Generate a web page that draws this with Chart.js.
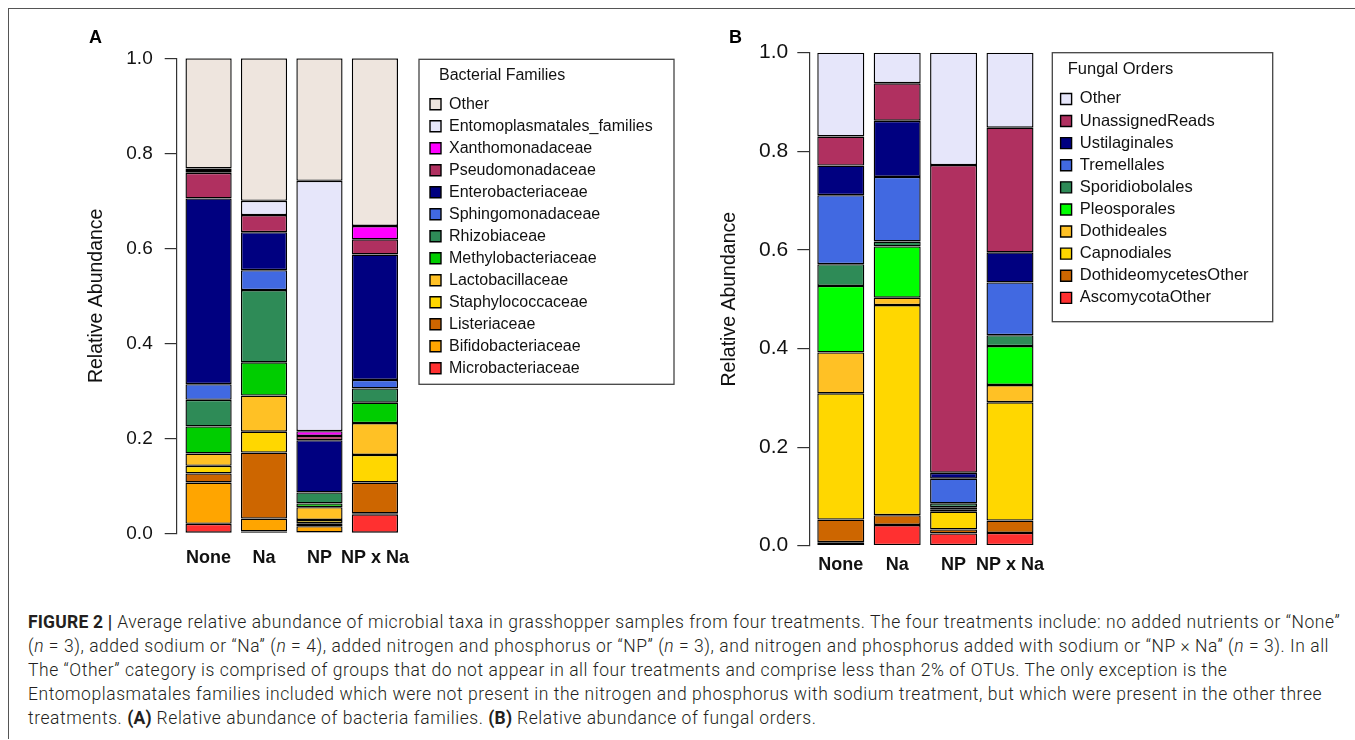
<!DOCTYPE html>
<html><head><meta charset="utf-8">
<script src="https://cdn.jsdelivr.net/npm/chart.js@4.4.1/dist/chart.umd.min.js"></script>
<style>
html,body{margin:0;padding:0;background:#fff;width:1355px;height:740px;overflow:hidden;position:relative;}
#frame{position:absolute;left:7.5px;top:7.5px;width:1360px;height:730px;border-top:1.5px solid #555;border-left:1.5px solid #555;}
.panel{position:absolute;top:0;}
.letter{position:absolute;font:bold 18px "Liberation Sans",Arial,sans-serif;line-height:18px;top:28px;color:#000;}
#caption{position:absolute;left:28px;top:610px;font-family:Roboto,"Liberation Sans",sans-serif;font-weight:300;font-size:17.5px;letter-spacing:0.55px;line-height:24px;color:#231f20;white-space:nowrap;}
#caption b{font-weight:700;letter-spacing:0.2px;}
</style></head>
<body>
<div id="frame"></div>
<canvas id="chartA" class="panel" width="1000" height="590" style="left:0px"></canvas>
<canvas id="chartB" class="panel" width="1000" height="590" style="left:640px"></canvas>
<div class="letter" style="left:89px">A</div>
<div class="letter" style="left:729px">B</div>
<div id="caption">
<div><b>FIGURE 2 |</b> Average relative abundance of microbial taxa in grasshopper samples from four treatments. The four treatments include: no added nutrients or “None”</div>
<div>(<i>n</i> = 3), added sodium or “Na” (<i>n</i> = 4), added nitrogen and phosphorus or “NP” (<i>n</i> = 3), and nitrogen and phosphorus added with sodium or “NP × Na” (<i>n</i> = 3). In all</div>
<div>The “Other” category is comprised of groups that do not appear in all four treatments and comprise less than 2% of OTUs. The only exception is the</div>
<div>Entomoplasmatales families included which were not present in the nitrogen and phosphorus with sodium treatment, but which were present in the other three</div>
<div>treatments. <b>(A)</b> Relative abundance of bacteria families. <b>(B)</b> Relative abundance of fungal orders.</div>
</div>
<script>
// ---------- DATA ----------
const treatments = ['None', 'Na', 'NP', 'NP x Na'];

// Panel A: bacterial families (bottom to top), values per treatment
const bacteriaNames = ['Microbacteriaceae', 'Bifidobacteriaceae', 'Listeriaceae', 'Staphylococcaceae',
  'Lactobacillaceae', 'Methylobacteriaceae', 'Rhizobiaceae', 'Sphingomonadaceae', 'Enterobacteriaceae',
  'Pseudomonadaceae', 'Xanthomonadaceae', 'Entomoplasmatales_families', 'Other'];
const microbacteriaceae   = [0.020, 0.004, 0.002, 0.040];
const bifidobacteriaceae  = [0.087, 0.027, 0.013, 0.002];
const listeriaceae        = [0.019, 0.139, 0.006, 0.065];
const staphylococcaceae   = [0.016, 0.044, 0.007, 0.058];
const lactobacillaceae    = [0.026, 0.076, 0.027, 0.067];
const methylobacteriaceae = [0.057, 0.070, 0.008, 0.043];
const rhizobiaceae        = [0.056, 0.152, 0.023, 0.030];
const sphingomonadaceae   = [0.033, 0.042, 0.000, 0.018];
const enterobacteriaceae  = [0.391, 0.080, 0.110, 0.264];
const pseudomonadaceae    = [0.054, 0.036, 0.009, 0.032];
const xanthomonadaceae    = [0.004, 0.000, 0.010, 0.028];
const entomoplasmatales   = [0.005, 0.030, 0.527, 0.000];
const bacteriaOther       = [0.232, 0.300, 0.258, 0.353];
const bacteriaColors = ['#FF3030', '#FFA500', '#CD6600', '#FFD700', '#FFC125', '#00CD00', '#2E8B57',
  '#4169E1', '#000080', '#B03060', '#FF00FF', '#E6E6FA', '#EEE5DE'];

// Panel B: fungal orders (bottom to top), values per treatment
const fungiNames = ['AscomycotaOther', 'DothideomycetesOther', 'Capnodiales', 'Dothideales', 'Pleosporales',
  'Sporidiobolales', 'Tremellales', 'Ustilaginales', 'UnassignedReads', 'Other'];
const ascomycotaOther      = [0.007, 0.042, 0.025, 0.026];
const dothideomycetesOther = [0.046, 0.020, 0.008, 0.025];
const capnodiales          = [0.256, 0.426, 0.036, 0.240];
const dothideales          = [0.083, 0.015, 0.005, 0.035];
const pleosporales         = [0.135, 0.104, 0.004, 0.079];
const sporidiobolales      = [0.044, 0.010, 0.008, 0.022];
const tremellales          = [0.140, 0.131, 0.050, 0.107];
const ustilaginales        = [0.060, 0.114, 0.012, 0.061];
const unassignedReads      = [0.059, 0.076, 0.624, 0.253];
const fungiOther           = [0.170, 0.062, 0.228, 0.152];
const fungiColors = ['#FF3030', '#CD6600', '#FFD700', '#FFC125', '#00FF00', '#2E8B57', '#4169E1',
  '#000080', '#B03060', '#E6E6FA'];

const yTicks = [0, 0.2, 0.4, 0.6, 0.8, 1.0];

// ---------- CHARTS ----------
const FONT = '"Liberation Sans", Arial, Helvetica, sans-serif';

const legendFrame = {
  id: 'legendFrame',
  afterLayout(chart, args, o) {
    const lg = chart.legend;
    const w = lg.width, h = lg.height;
    lg.left = o.legendLeft; lg.right = lg.left + w;
    lg.top = chart.chartArea.top; lg.bottom = lg.top + h;
  },
  afterDraw(chart, args, o) {
    const lg = chart.legend, ctx = chart.ctx;
    ctx.save();
    ctx.strokeStyle = '#444'; ctx.lineWidth = 1.3;
    ctx.strokeRect(lg.left + o.boxDx, lg.top + o.boxDy, o.boxW, o.boxH);
    ctx.fillStyle = '#111';
    ctx.font = o.titleSize + 'px ' + FONT;
    ctx.textBaseline = 'middle'; ctx.textAlign = 'left';
    ctx.fillText(o.title, lg.left + o.titleDx, lg.top + o.titleDy);
    ctx.restore();
  }
};

function buildChart(id, p) {
  const xs = treatments.map((_, i) => 0.7 + 1.2 * i);   // R barplot bar centres (space = 0.2)
  const datasets = p.series.map((vals, k) => ({
    label: p.names[k],
    data: vals.map((v, i) => ({x: xs[i], y: v})),
    backgroundColor: p.colors[k],
    borderColor: '#000',
    borderWidth: 1.4,
    borderSkipped: false,
    categoryPercentage: 1,
    barPercentage: 1 / 1.2
  }));
  return new Chart(document.getElementById(id), {
    type: 'bar',
    data: {datasets},
    plugins: [legendFrame],
    options: {
      responsive: false,
      animation: false,
      layout: {padding: {top: p.areaTop, left: 0, right: 0, bottom: 0}},
      plugins: {
        tooltip: {enabled: false},
        legend: {
          position: 'right', align: 'start', reverse: true,
          title: {display: true, text: '', font: {size: 16}, padding: {top: p.legendTitlePad, bottom: 0}},
          labels: {boxWidth: 11, boxHeight: 11, padding: p.legendPad, color: '#111',
                   font: {family: FONT, size: p.legendFont}}
        },
        legendFrame: p.frame
      },
      scales: {
        x: {
          type: 'linear', stacked: true, offset: false, bounds: 'data',
          afterDataLimits: s => { s.min = p.xMin; s.max = p.xMin + s.width / p.pxPerUnit; },
          afterBuildTicks: s => { s.ticks = xs.map(v => ({value: v})); },
          afterFit: s => { s.height = p.height - p.areaBottom; },
          grid: {display: false}, border: {display: false},
          ticks: {autoSkip: false, maxRotation: 0, padding: p.xPad, color: '#111',
                  font: {family: FONT, size: 18, weight: 'bold'},
                  callback: (v, i) => treatments[i]}
        },
        y: {
          stacked: true, min: 0, max: 1,
          afterFit: s => { s.width = p.areaLeft; },
          afterBuildTicks: s => { s.ticks = yTicks.map(v => ({value: v})); },
          border: {display: true, color: '#333', width: 1.2},
          grid: {display: true, drawOnChartArea: false, drawTicks: true, tickLength: 12, color: '#333', lineWidth: 1.2},
          ticks: {padding: p.yPad, color: '#111', font: {family: FONT, size: p.tickFont},
                  callback: v => Number(v).toFixed(1)},
          title: {display: true, text: 'Relative Abundance', color: '#111',
                  font: {family: FONT, size: 19.5}, padding: {top: p.yTitlePad, bottom: 0}}
        }
      }
    }
  });
}

buildChart('chartA', {
  names: bacteriaNames, colors: bacteriaColors,
  series: [microbacteriaceae, bifidobacteriaceae, listeriaceae, staphylococcaceae, lactobacillaceae,
           methylobacteriaceae, rhizobiaceae, sphingomonadaceae, enterobacteriaceae, pseudomonadaceae,
           xanthomonadaceae, entomoplasmatales, bacteriaOther],
  height: 590, areaTop: 58.3, areaBottom: 533.3, areaLeft: 176.7,
  xMin: 0.01, pxPerUnit: 46.2, xPad: 6, yPad: 12, tickFont: 19, yTitlePad: 85,
  legendFont: 16, legendPad: 6, legendTitlePad: 12.8,
  frame: {legendLeft: 424, boxDx: -5, boxDy: 1, boxW: 255, boxH: 325,
          title: 'Bacterial Families', titleSize: 16, titleDx: 15, titleDy: 17.7}
});

buildChart('chartB', {
  names: fungiNames, colors: fungiColors,
  series: [ascomycotaOther, dothideomycetesOther, capnodiales, dothideales, pleosporales,
           sporidiobolales, tremellales, ustilaginales, unassignedReads, fungiOther],
  height: 590, areaTop: 52.7, areaBottom: 545.7, areaLeft: 169.3,
  xMin: 0.03, pxPerUnit: 47, xPad: 1, yPad: 9, tickFont: 21, yTitlePad: 78.3,
  legendFont: 16.5, legendPad: 5.6, legendTitlePad: 13.2,
  frame: {legendLeft: 415, boxDx: -2.7, boxDy: 0, boxW: 220.4, boxH: 269,
          title: 'Fungal Orders', titleSize: 16.5, titleDx: 12.7, titleDy: 16.6}
});
</script>
</body></html>
